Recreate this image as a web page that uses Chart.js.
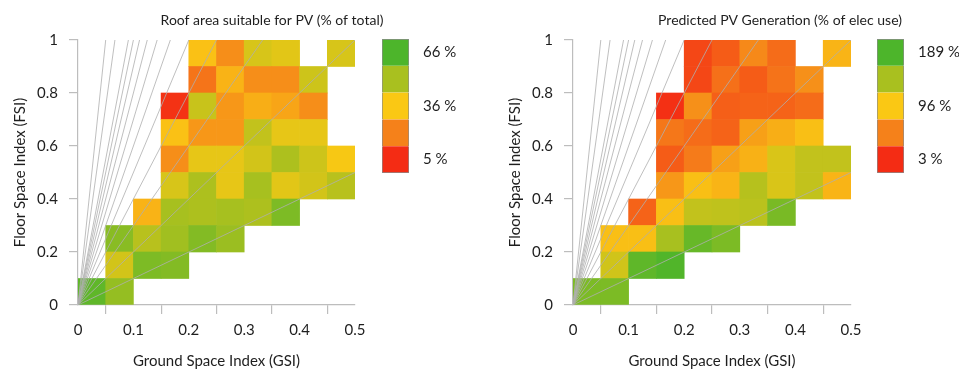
<!DOCTYPE html>
<html><head><meta charset="utf-8">
<script src="https://cdn.jsdelivr.net/npm/chart.js@4.4.1/dist/chart.umd.min.js"></script>
<style>
html,body{margin:0;padding:0;background:#fff;width:959px;height:369px;overflow:hidden;position:relative}
canvas{position:absolute;top:0}
</style></head><body>
<canvas id="roof" width="544" height="369" style="left:0"></canvas>
<canvas id="roofLegend" width="99" height="369" style="left:370px"></canvas>
<canvas id="pv" width="570" height="369" style="left:495px"></canvas>
<canvas id="pvLegend" width="99" height="369" style="left:865px"></canvas>
<script>
// ---- data ----
const gsiBins = ['0-0.05','0.05-0.1','0.1-0.15','0.15-0.2','0.2-0.25','0.25-0.3','0.3-0.35','0.35-0.4','0.4-0.45','0.45-0.5'];
const fsiEdges = [0,0.1,0.2,0.3,0.4,0.5,0.6,0.7,0.8,0.9,1.0];
// rows: FSI 0-0.1 (first) ... 0.9-1.0 (last); columns follow gsiBins
const roofPct = [
  [63,54,null,null,null,null,null,null,null,null],
  [null,43,58,57,null,null,null,null,null,null],
  [null,56,48,52,57,53,null,null,null,null],
  [null,null,31,51,50,51,50,58,null,null],
  [null,null,null,42,50,39,51,40,43,48],
  [null,null,null,23,39,39,43,50,44,36],
  [null,null,null,34,25,25,46,39,39,null],
  [null,null,null,6,45,25,30,28,23,null],
  [null,null,null,null,18,31,23,23,44,null],
  [null,null,null,null,34,23,42,40,null,42]
];
const pvGenPct = [
  [165,165,null,null,null,null,null,null,null,null],
  [null,120,180,187,null,null,null,null,null,null],
  [null,90,90,143,176,165,null,null,null,null],
  [null,null,33,90,128,130,133,167,null,null],
  [null,null,null,64,90,83,135,115,128,83],
  [null,null,null,29,46,70,81,115,128,128],
  [null,null,null,44,38,33,70,79,90,null],
  [null,null,null,5,59,31,33,33,38,null],
  [null,null,null,null,18,40,29,42,59,null],
  [null,null,null,null,18,29,55,38,null,83]
];
const floorLines = [1,2,3,4,5,6,7,8,9,10,11,15,20];
const roofRange = [5,66];
const pvRange = [3,189];
const roofLegendLabels = ['5 %','36 %','66 %'];
const pvLegendLabels = ['3 %','96 %','189 %'];
const legendSegments = [1,1,1,1,1];
const legendLabelPos = [0.5,2.5,4.5];
const scaleColours = ['#f42c14','#f5811a','#fac814','#a9c01f','#4db52b'];

// ---- helpers ----
const FONT = 'Lato';
const TXT = '#1e1e1e';
const AXIS = '#bdbdbd';
const xMax = 0.5, yMax = 1;

function hexToRgb(h){return [1,3,5].map(i=>parseInt(h.substr(i,2),16));}
const stopRgb = scaleColours.map(hexToRgb);
function colourFor(v, range){
  if (v === null) return 'rgba(0,0,0,0)';
  let t = (v - range[0]) / (range[1] - range[0]);
  t = Math.max(0, Math.min(1, t));
  const seg = Math.min(stopRgb.length - 2, Math.floor(t * (stopRgb.length - 1)));
  const f = t * (stopRgb.length - 1) - seg;
  const a = stopRgb[seg], b = stopRgb[seg + 1];
  const c = a.map((x, i) => Math.round(x + (b[i] - x) * f));
  return `rgb(${c[0]},${c[1]},${c[2]})`;
}
const fmt = v => String(Math.round(v * 100) / 100);

function mainChart(id, titleText, values, range, rightWidth){
  const bars = values.map((row, r) => ({
    type: 'bar',
    xAxisID: 'xc', yAxisID: 'y',
    data: row.map(v => v === null ? null : [fsiEdges[r], fsiEdges[r + 1]]),
    backgroundColor: row.map(v => colourFor(v, range)),
    borderWidth: 0,
    barPercentage: 1, categoryPercentage: 1,
    grouped: false,
    order: 1
  }));
  const rays = floorLines.map(n => {
    const xe = Math.min(xMax, yMax / n);
    return {
      type: 'line', xAxisID: 'x', yAxisID: 'y',
      data: [{x: 0, y: 0}, {x: xe, y: xe * n}],
      borderColor: 'rgba(175,175,175,0.8)', borderWidth: 1,
      pointRadius: 0, fill: false, tension: 0, order: 0
    };
  });
  return new Chart(document.getElementById(id), {
    type: 'bar',
    data: {labels: gsiBins, datasets: [...bars, ...rays]},
    options: {
      responsive: false, animation: false, events: [],
      plugins: {
        legend: {display: false}, tooltip: {enabled: false},
        title: {display: true, text: titleText, color: TXT,
          font: {family: FONT, size: 14, weight: 'normal', lineHeight: 1.2},
          padding: {top: 11.6, bottom: 11.6}}
      },
      scales: {
        xc: {type: 'category', display: false, offset: true},
        x: {type: 'linear', position: 'bottom', min: 0, max: xMax, offset: false,
          ticks: {stepSize: 0.1, color: TXT, font: {family: FONT, size: 15}, padding: 7, maxRotation: 0, callback: fmt},
          grid: {display: true, drawOnChartArea: false, drawTicks: true, tickLength: 9, color: AXIS, lineWidth: 1.2},
          border: {display: true, color: AXIS, width: 1.2},
          title: {display: true, text: 'Ground Space Index (GSI)', color: TXT,
            font: {family: FONT, size: 15, lineHeight: 1}, padding: {top: 0, bottom: 0}},
          afterFit(s){ s.height = 64; }
        },
        y: {type: 'linear', position: 'left', min: 0, max: yMax,
          ticks: {stepSize: 0.2, color: TXT, font: {family: FONT, size: 15}, padding: 11, callback: fmt},
          grid: {display: true, drawOnChartArea: false, drawTicks: true, tickLength: 9, color: AXIS, lineWidth: 1.2},
          border: {display: true, color: AXIS, width: 1.2},
          title: {display: true, text: 'Floor Space Index (FSI)', color: TXT,
            font: {family: FONT, size: 15, lineHeight: 1.2}, padding: {top: 11, bottom: 0}},
          afterFit(s){ s.width = 78; }
        },
        yR: {type: 'linear', position: 'right', display: true,
          grid: {display: false, drawTicks: false}, ticks: {display: false}, border: {display: false},
          afterFit(s){ s.width = rightWidth; }
        }
      }
    }
  });
}

function legendChart(id, labels){
  const n = scaleColours.length;
  return new Chart(document.getElementById(id), {
    type: 'bar',
    data: {labels: [''], datasets: scaleColours.map((col, i) => ({
      data: [legendSegments[i]],
      backgroundColor: col,
      borderColor: '#8c8c8c',
      borderWidth: {left: 1, right: 1, top: i === n - 1 ? 1 : 0, bottom: i === 0 ? 1 : 0},
      borderSkipped: false,
      barPercentage: 1, categoryPercentage: 1
    }))},
    options: {
      responsive: false, animation: false, events: [],
      layout: {padding: {left: 12, top: 39, bottom: 196, right: 0}},
      plugins: {legend: {display: false}, tooltip: {enabled: false}},
      scales: {
        x: {stacked: true, display: false},
        y: {stacked: true, position: 'right', min: 0, max: legendSegments.reduce((a, b) => a + b, 0),
          grid: {display: false, drawTicks: false}, border: {display: false},
          ticks: {padding: 14, color: TXT, font: {family: FONT, size: 15},
            callback: (v, i) => labels[i]},
          afterBuildTicks(s){ s.ticks = legendLabelPos.map(v => ({value: v})); },
          afterFit(s){ s.width = 60; }
        }
      }
    }
  });
}

mainChart('roof', 'Roof area suitable for PV (% of total)', roofPct, roofRange, 544 - 355);
legendChart('roofLegend', roofLegendLabels);
mainChart('pv', 'Predicted PV Generation (% of elec use)', pvGenPct, pvRange, 570 - 278 - 78);
legendChart('pvLegend', pvLegendLabels);
</script>
</body></html>
